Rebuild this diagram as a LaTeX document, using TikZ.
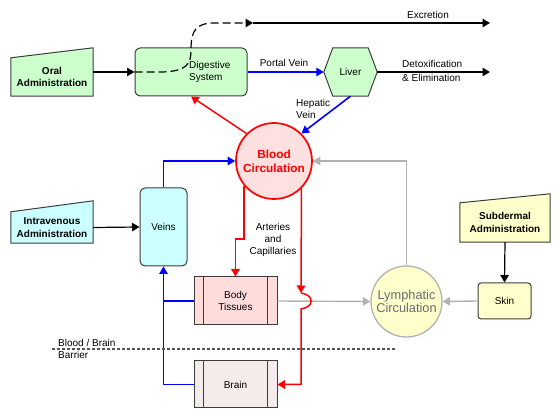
\documentclass[tikz,border=0pt]{standalone}
\usepackage{fontspec}
\setmainfont{Liberation Sans}
\usetikzlibrary{arrows.meta, positioning, calc, backgrounds}
\definecolor{digestgreen}{RGB}{204,255,204}
\definecolor{veincyan}{RGB}{204,255,255}
\definecolor{skinyellow}{RGB}{255,255,204}
\definecolor{bloodpink}{RGB}{255,224,224}
\definecolor{tissuepink}{RGB}{255,220,220}
\definecolor{brainpink}{RGB}{243,236,234}
\definecolor{boxgrey}{RGB}{60,60,60}
\definecolor{lymphline}{RGB}{178,178,178}
\definecolor{lymphtext}{RGB}{105,105,120}
\definecolor{barriergrey}{RGB}{85,85,85}

\begin{document}
\begin{tikzpicture}[x=1pt, y=-1pt,
  box/.style={draw=boxgrey, line width=1pt, inner sep=0pt, align=center,
              font=\fontsize{10}{12}\selectfont},
  admin/.style={inner sep=0pt, align=center, font=\bfseries\fontsize{10}{12.3}\selectfont},
  shapeline/.style={draw=boxgrey, line width=1pt},
  lbl/.style={inner sep=0pt, align=center, font=\fontsize{10}{12}\selectfont},
  arrow/.style={-{Triangle[length=7.5pt, width=8.5pt]}, line width=1.2pt},
  bluearrow/.style={arrow, blue, line width=1.6pt},
  redarrow/.style={arrow, red, line width=1.5pt},
  greyarrow/.style={arrow, lymphline, line width=1.4pt}
]
\useasboundingbox (0,0) rectangle (560,419);

\node[admin, minimum width=82pt, minimum height=38pt] (oral) at (52,77) {Oral\\Administration};
\node[box, fill=digestgreen, rounded corners=5pt, minimum width=112pt, minimum height=48pt] (dig) at (191,72) {};
\node[lbl, anchor=west, align=left] (digtxt) at (189,72) {Digestive\\System};
\node[lbl, minimum width=53pt, minimum height=48pt] (liver) at (350.5,72) {Liver};
\node[circle, draw=red, line width=1.7pt, fill=bloodpink, minimum size=76pt, inner sep=0pt,
      text=red, align=center, font=\bfseries\fontsize{11.8}{14}\selectfont] (blood) at (274,161) {Blood\\Circulation};
\node[box, fill=veincyan, rounded corners=5pt, minimum width=47pt, minimum height=78pt] (veins) at (163.5,227) {Veins};
\node[admin, minimum width=82pt, minimum height=31pt] (iv) at (52,227.5) {Intravenous\\Administration};
\node[box, fill=tissuepink, minimum width=83pt, minimum height=48pt] (tis) at (235.5,301) {Body\\Tissues};
\node[box, fill=brainpink, minimum width=83pt, minimum height=47pt] (brain) at (235.5,384.5) {Brain};
\node[circle, draw=lymphline, line width=1.3pt, fill=skinyellow, minimum size=71pt, inner sep=0pt,
      text=lymphtext, align=center, font=\fontsize{12.8}{13.5}\selectfont] (lymph) at (406.5,301.5) {Lymphatic\\Circulation};
\node[box, fill=skinyellow, rounded corners=3pt, minimum width=53pt, minimum height=36pt] (skin) at (504.5,301) {Skin};
\node[admin, minimum width=90pt, minimum height=39pt] (sub) at (505,222.5) {Subdermal\\Administration};

\begin{scope}[on background layer]
\draw[shapeline, fill=digestgreen] (oral.south west) -- (oral.south east) -- ($(oral.north east)+(0,-10)$) -- (oral.north west) -- cycle;
\draw[shapeline, fill=veincyan] (iv.south west) -- (iv.south east) -- ($(iv.north east)+(0,-11)$) -- (iv.north west) -- cycle;
\draw[shapeline, fill=skinyellow] (sub.south west) -- (sub.south east) -- ($(sub.north east)+(0,-9)$) -- (sub.north west) -- cycle;
\draw[shapeline, fill=digestgreen] ($(liver.north west)+(9,0)$) -- ($(liver.north east)+(-9,0)$) -- (liver.east)
  -- ($(liver.south east)+(-9,0)$) -- ($(liver.south west)+(9,0)$) -- (liver.west) -- cycle;
\end{scope}

\draw[shapeline, line width=1.3pt] ($(tis.north west)+(10,0)$) -- ($(tis.south west)+(10,0)$);
\draw[shapeline, line width=1.3pt] ($(tis.north east)+(-10,0)$) -- ($(tis.south east)+(-10,0)$);
\draw[shapeline, line width=1.3pt] ($(brain.north west)+(10,0)$) -- ($(brain.south west)+(10,0)$);
\draw[shapeline, line width=1.3pt] ($(brain.north east)+(-10,0)$) -- ($(brain.south east)+(-10,0)$);

\coordinate (excA) at (253,23);
\coordinate (excB) at (490,23);
\coordinate (detoxend) at (490,72);
\coordinate (hopA) at (301,293);
\coordinate (hopB) at (301,309);
\coordinate (barL) at (52,349);
\coordinate (barR) at (395,349);

\draw[arrow] (oral.east |- dig.west) -- (dig.west);
\draw[arrow, dash pattern=on 8pt off 4pt] (dig.west) -- ++(28,0) .. controls (187,71) and (191,64) .. (191,50)
  .. controls (191,30) and (196,23) .. (215,23) -- (excA);
\draw[arrow] (excA) -- (excB);
\draw[bluearrow] (dig.east) -- (liver.west);
\draw[arrow] (liver.east) -- (detoxend);
\draw[bluearrow] (liver.south) -- (blood.45);
\draw[redarrow] (blood.135) -- (dig.south);
\draw[bluearrow] (veins.north) |- (blood.west);
\draw[arrow] (iv.east) -- (veins.west);
\draw[redarrow] (blood.-140) -- ++(0,53) -| (tis.north);
\draw[greyarrow] (tis.east) -- (lymph.west);
\draw[redarrow] (blood.-45) -- (hopA);
\draw[redarrow] (hopA) .. controls (310,295) and (311,298) .. (311,301) .. controls (311,304) and (310,307) .. (hopB) |- (brain.east);
\draw[bluearrow] (brain.west) -| (veins.south);
\draw[blue, line width=1.6pt] (tis.west) -- (tis.west -| veins.south);
\draw[greyarrow] (lymph.north) |- (blood.east);
\draw[greyarrow] (skin.west) -- (lymph.east);
\draw[arrow] (sub.south) -- (skin.north);
\draw[barriergrey, line width=1.1pt, dash pattern=on 3pt off 2pt] (barL) -- (barR);

\node[lbl] (exclbl) at (428,15) {Excretion};
\node[lbl] (portal) at (284,63) {Portal Vein};
\node[lbl, anchor=west, align=left] (detox) at (402,71) {Detoxification\\[2.5pt]\& Elimination};
\node[lbl, anchor=west, align=left] (hep) at (296,109) {Hepatic\\Vein};
\node[lbl] (art) at (273,240) {Arteries\\and\\Capillaries};
\node[lbl, anchor=west, align=left] (bbb) at (58,349) {Blood / Brain\\Barrier};
\end{tikzpicture}
\end{document}
